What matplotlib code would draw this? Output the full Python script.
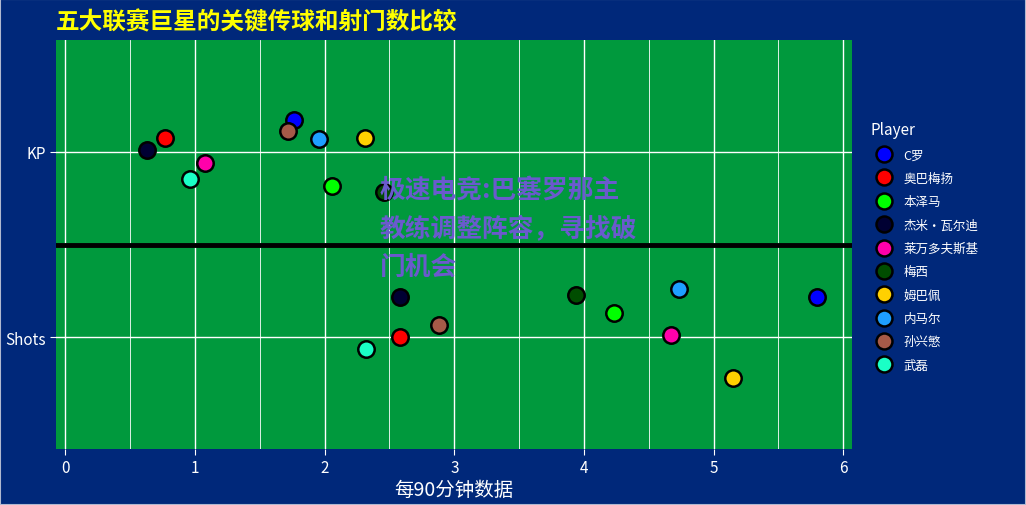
import matplotlib.pyplot as plt
from matplotlib.lines import Line2D
from matplotlib.patches import Rectangle

plt.rcParams['font.family'] = ['Noto Sans CJK SC', 'DejaVu Sans']

# Players and their colours
players = ['C罗', '奥巴梅扬', '本泽马', '杰米·瓦尔迪', '莱万多夫斯基',
           '梅西', '姆巴佩', '内马尔', '孙兴慜', '武磊']
colors = ['#0000FF', '#FF0000', '#00FF00', '#000033', '#FF00AA',
          '#004D00', '#FFD000', '#1E9FFF', '#A65A48', '#1AFFC6']

# per-90 values (x) and jittered vertical positions (y)
kp_x = [1.76, 0.77, 2.06, 0.63, 1.08, 2.46, 2.31, 1.96, 1.72, 0.96]
kp_y = [2.172, 2.075, 1.817, 2.01, 1.94, 1.785, 2.075, 2.065, 2.113, 1.85]
shots_x = [5.80, 2.58, 4.23, 2.58, 4.67, 3.94, 5.15, 4.73, 2.88, 2.32]
shots_y = [1.22, 1.005, 1.129, 1.215, 1.011, 1.226, 0.78, 1.258, 1.065, 0.94]

categories = ['Shots', 'KP']
x_ticks = [0, 1, 2, 3, 4, 5, 6]

bg = '#00287A'
panel = '#00993D'

fig = plt.figure(figsize=(10.26, 5.06), dpi=100, facecolor=bg)
ax = fig.add_axes([56 / 1026, 1 - 450 / 506, 796 / 1026, 409 / 506])
ax.set_facecolor(panel)

# grid
for xv in [i * 0.5 for i in range(13)]:
    ax.axvline(xv, color='white', lw=1.0 if xv % 1 == 0 else 0.6, zorder=1)
for yv in [1, 2]:
    ax.axhline(yv, color='white', lw=1.0, zorder=1)
ax.axhline(1.5, color='black', lw=3.5, zorder=2)

for i, p in enumerate(players):
    ax.scatter([kp_x[i], shots_x[i]], [kp_y[i], shots_y[i]], s=140,
               color=colors[i], edgecolor='black', linewidth=1.8, zorder=3)

ax.set_xlim(-0.072, 6.067)
ax.set_ylim(0.4, 2.6)
ax.set_xticks(x_ticks)
ax.set_xticklabels([str(v) for v in x_ticks])
ax.set_yticks([1, 2])
ax.set_yticklabels(categories)
ax.tick_params(colors='white', labelsize=11, length=4, width=0.8)
for s in ax.spines.values():
    s.set_visible(False)

ax.set_xlabel('每90分钟数据', color='white', fontsize=14, labelpad=2)

fig.text(56 / 1026, 1 - 22 / 506, '五大联赛巨星的关键传球和射门数比较', color='#FFFF00',
         fontsize=17, fontweight='bold', va='center', ha='left')

# legend
handles = [Line2D([], [], marker='o', ls='', markersize=11.5, markerfacecolor=c,
                  markeredgecolor='black', markeredgewidth=1.8) for c in colors]
leg = fig.legend(handles, players, title='Player', loc='upper left',
                 bbox_to_anchor=(866 / 1026, 1 - 117 / 506), frameon=False,
                 fontsize=9, labelcolor='white', handletextpad=0.6,
                 labelspacing=0.83, borderaxespad=0)
leg.get_title().set_color('white')
leg.get_title().set_fontsize(11)
leg._legend_box.align = 'left'

# watermark
fig.text(380 / 1026, 1 - 177 / 506, '极速电竞:巴塞罗那主\n教练调整阵容，寻找破\n门机会',
         color='#6A5ACD', fontsize=18.5, fontweight='bold', va='top', ha='left',
         linespacing=1.55, zorder=5)

fig.patches.append(Rectangle((0, 0), 1, 1, transform=fig.transFigure,
                             fill=False, edgecolor='#B0B8D0', lw=1.5))

fig.savefig('out.png', dpi=100, facecolor=bg)
